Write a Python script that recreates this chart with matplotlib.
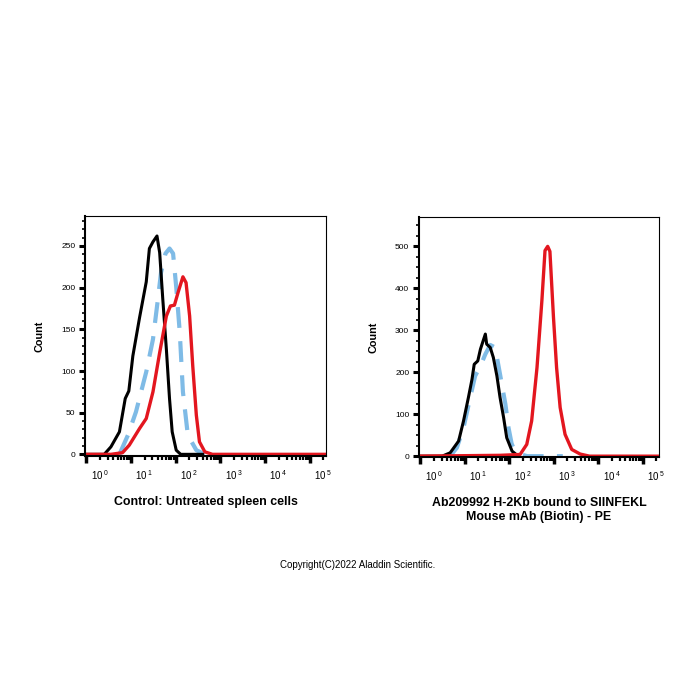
import numpy as np
import matplotlib
matplotlib.use("Agg")
import matplotlib.pyplot as plt
import matplotlib.transforms as mtransforms
from matplotlib.ticker import LogLocator, MultipleLocator, NullFormatter


plt.rcParams['font.family'] = ['Liberation Sans', 'DejaVu Sans']
plt.rcParams['mathtext.fontset'] = 'custom'
plt.rcParams['mathtext.rm'] = 'Liberation Sans'

# Control panel (left): log10 fluorescence, count
CTRL_BLACK_LOG = [0.0, 0.40, 0.55, 0.74, 0.87, 0.95, 1.04, 1.19, 1.34, 1.41, 1.49,
                  1.58, 1.64, 1.71, 1.79, 1.86, 1.92, 2.01, 2.11, 2.6]
CTRL_BLACK_CNT = [0, 0, 9, 27, 67, 76, 118, 164, 207, 247, 255,
                  262, 242, 186, 126, 67, 27, 5, 0, 0]

CTRL_BLUE_LOG = [0.74, 0.93, 1.11, 1.34, 1.49, 1.60, 1.67, 1.77, 1.86, 1.94,
                 2.01, 2.09, 2.16, 2.27, 2.46, 2.65]
CTRL_BLUE_CNT = [0, 23, 51, 99, 138, 186, 218, 241, 247, 241,
                 201, 146, 75, 23, 5, 0]

CTRL_RED_LOG = [-0.1, 0.55, 0.81, 0.96, 1.19, 1.34, 1.49, 1.64, 1.79, 1.88, 1.97,
                2.05, 2.16, 2.23, 2.31, 2.38, 2.46, 2.53, 2.65, 2.82, 5.5]
CTRL_RED_CNT = [0, 0, 2, 11, 31, 43, 75, 122, 166, 178, 179,
                194, 213, 206, 166, 106, 47, 15, 3, 0, 0]

# Stained panel (right)
AB_BLACK_LOG = [0.0, 0.49, 0.67, 0.86, 0.97, 1.08, 1.16, 1.21, 1.29, 1.35, 1.46,
                1.49, 1.57, 1.64, 1.72, 1.79, 1.87, 1.94, 2.06, 2.2]
AB_BLACK_CNT = [0, 0, 8, 36, 84, 140, 183, 219, 227, 255, 291,
                267, 259, 235, 191, 140, 92, 44, 12, 0]

AB_BLUE_LOG = [0.67, 0.82, 0.97, 1.12, 1.23, 1.35, 1.46, 1.57, 1.68, 1.79,
               1.91, 1.98, 2.05, 2.09, 2.24, 2.4, 3.2]
AB_BLUE_CNT = [0, 20, 68, 140, 191, 215, 243, 265, 259, 195,
               124, 68, 30, 20, 5, 0, 0]

AB_RED_LOG = [-0.1, 1.79, 2.24, 2.39, 2.50, 2.62, 2.73, 2.80, 2.86, 2.91,
              2.99, 3.06, 3.14, 3.25, 3.40, 3.59, 3.8, 5.5]
AB_RED_CNT = [0, 2, 4, 28, 84, 211, 371, 490, 500, 488,
              331, 211, 116, 52, 16, 5, 0, 0]

X_TICKS = [1e0, 1e1, 1e2, 1e3, 1e4, 1e5]
X_TICK_LABELS = [r'$10^{\,0}$', r'$10^{\,1}$', r'$10^{\,2}$',
                 r'$10^{\,3}$', r'$10^{\,4}$', r'$10^{\,5}$']

RED = '#e3161f'
BLUE = '#7fbbe6'


def style_axes(ax, fig, ymax, ymajor, yminor):
    """ Flow-cytometry histogram look: log x axis, thick outward ticks."""
    ax.set_xscale('log')
    ax.set_xlim(10 ** -0.03, 10 ** 5.36)
    ax.set_xticks(X_TICKS)
    ax.set_xticklabels(X_TICK_LABELS)
    ax.xaxis.set_minor_locator(LogLocator(base=10, subs=np.arange(2, 10)))
    ax.xaxis.set_minor_formatter(NullFormatter())
    ax.yaxis.set_major_locator(MultipleLocator(ymajor))
    ax.yaxis.set_minor_locator(MultipleLocator(yminor))
    ax.set_ylim(-2, ymax)
    ax.tick_params(axis='x', which='major', length=5, width=2.5, labelsize=7, pad=4)
    ax.tick_params(axis='x', which='minor', length=3, width=1.6)
    ax.tick_params(axis='y', which='major', length=4, width=2.2, labelsize=6, pad=3)
    ax.tick_params(axis='y', which='minor', length=2.5, width=1.2)
    for side in ['top', 'right']:
        ax.spines[side].set_linewidth(0.8)
    for side in ['left', 'bottom']:
        ax.spines[side].set_linewidth(1.5)

    # labels sit just right of their tick, like the cytometer export
    shift = mtransforms.ScaledTranslation(3 / 72, 0, fig.dpi_scale_trans)
    for lbl in ax.get_xticklabels():
        lbl.set_horizontalalignment('left')
        lbl.set_transform(lbl.get_transform() + shift)

    ax.set_ylabel('Count', fontsize=7.8, fontweight='bold', labelpad=12)


def draw_panel(ax, blue, black, red):
    ax.plot(10 ** np.array(blue[0]), blue[1], color=BLUE, lw=3.0,
            dashes=(5, 3.2), solid_capstyle='butt')
    ax.plot(10 ** np.array(black[0]), black[1], color='black', lw=2.2)
    ax.plot(10 ** np.array(red[0]), red[1], color=RED, lw=2.4)


def main():
    fig = plt.figure(figsize=(7, 7), dpi=100)

    ax1 = fig.add_axes([85 / 700, 244 / 700, 241 / 700, 240 / 700])
    draw_panel(ax1, (CTRL_BLUE_LOG, CTRL_BLUE_CNT),
               (CTRL_BLACK_LOG, CTRL_BLACK_CNT), (CTRL_RED_LOG, CTRL_RED_CNT))
    style_axes(ax1, fig, 286, 50, 10)
    ax1.set_xlabel('Control: Untreated spleen cells', fontsize=8.9,
                   fontweight='bold', labelpad=10)

    ax2 = fig.add_axes([419 / 700, 243 / 700, 240 / 700, 240 / 700])
    draw_panel(ax2, (AB_BLUE_LOG, AB_BLUE_CNT),
               (AB_BLACK_LOG, AB_BLACK_CNT), (AB_RED_LOG, AB_RED_CNT))
    style_axes(ax2, fig, 570, 100, 25)
    ax2.set_xlabel('Ab209992 H-2Kb bound to SIINFEKL\nMouse mAb (Biotin) - PE',
                   fontsize=8.9, fontweight='bold', labelpad=10, linespacing=1.15)

    fig.text(358 / 700, 1 - 565 / 700, 'Copyright(C)2022 Aladdin Scientific.',
             ha='center', va='center', fontsize=7)

    fig.savefig('out.png', dpi=100)


if __name__ == "__main__":
    main()
